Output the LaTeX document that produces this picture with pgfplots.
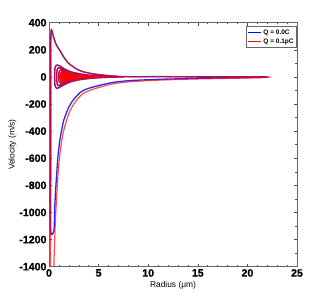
\documentclass[border=0pt]{standalone}
\usepackage{pgfplots}
\pgfplotsset{compat=1.18}
\usepackage{fontspec}
\setmainfont{Liberation Sans}
\newfontfamily\tickfont[FakeBold=1.2]{Liberation Sans Bold}
\begin{document}
\begin{tikzpicture}
\path[use as bounding box] (-49pt,-33pt) rectangle (278pt,266.7pt);
\begin{axis}[
  scale only axis, width=248pt, height=244pt,
  xmin=0, xmax=25, ymin=-1400, ymax=400,
  xtick={0,5,...,25}, ytick={-1400,-1200,...,400},
  minor x tick num=4, minor y tick num=1,
  tick align=inside,
  axis line style={black!60, line width=0.8pt},
  every tick/.style={black!70, line width=0.5pt},
  major tick length=3pt, minor tick length=1.8pt,
  /pgf/number format/assume math mode=true,
  /pgf/number format/1000 sep={},
  every tick label/.append style={font=\fontsize{10.6}{12}\tickfont},
  xticklabel style={yshift=1pt},
  yticklabel style={xshift=1pt},
  xlabel={Radius (μm)}, ylabel={Velocity (m/s)},
  label style={font=\fontsize{8.4}{10}\selectfont},
  xlabel style={yshift=2pt},
  ylabel style={yshift=-4pt},
  legend style={at={(1,0.986)}, anchor=north east, draw=black!60, line width=0.8pt,
    font=\fontsize{6.5}{7.5}\selectfont\bfseries, inner sep=1pt, row sep=-1pt},
  legend cell align=left,
  legend image code/.code={\draw[#1, line width=1.1pt] (0pt,0pt) -- (13pt,0pt);},
]
\addlegendimage{blue}
\addlegendentry{Q = 0.0C}
\addlegendimage{red}
\addlegendentry{Q = 0.1pC}
% Q = 0 (blue)
\addplot[blue!85!white, line width=1.3pt, smooth, tension=0.45, line join=round, forget plot] coordinates {
(1.6,0) (2,2) (3,3) (5,3) (8,2) (12,2) (16,1) (20,1) (22,0)
(21.5,-3) (20,-5) (17,-8) (14.2,-12) (11,-18) (8.2,-27) (6.5,-40) (5.1,-62) (4,-84) (3.5,-98) (3.1,-118) (2.5,-165) (2,-222) (1.5,-317) (1.28,-392) (1.1,-465) (0.9,-588) (0.67,-834) (0.58,-960) (0.5,-1130)
(0.17,-1130) (0.17,-600) (0.17,0) (0.18,250) (0.21,335) (0.23,351) (0.3,340) (0.4,310) (0.6,262) (0.8,228) (1.1,195) (1.5,145) (1.95,102) (2.5,72) (2.95,52) (3.5,37) (4.5,22) (5.8,11) (7,4) (7.5,0)
(6,-3) (5,-6) (4,-12) (3,-22) (2.2,-36) (1.6,-55) (1.1,-75) (0.85,-84) (0.7,-80) (0.6,-62) (0.57,-25) (0.57,25) (0.6,64) (0.7,84) (0.85,88) (1.1,80) (1.6,58) (2.2,38) (3,24) (4,13) (5,6) (6,2) (6.5,0)
(5,-4) (4,-9) (3,-17) (2.2,-28) (1.6,-43) (1.2,-58) (0.95,-65) (0.84,-55) (0.78,-22) (0.78,22) (0.84,58) (0.95,68) (1.2,62) (1.6,46) (2.2,30) (3,17) (4,8) (5,3) (5.8,0)
(4.5,-3) (3.5,-8) (2.6,-15) (2,-24) (1.5,-36) (1.2,-46) (1.05,-40) (0.98,-15) (0.98,15) (1.05,44) (1.2,50) (1.5,39) (2,26) (2.6,15) (3.5,7) (4.5,2) (5.1,0)
(4,-3) (3,-8) (2.3,-14) (1.8,-22) (1.45,-30) (1.25,-28) (1.15,-10) (1.15,10) (1.25,31) (1.45,34) (1.8,24) (2.3,15) (3,7) (4,2) (4.5,0)
(3.5,-3) (2.6,-7) (2,-13) (1.6,-19) (1.38,-18) (1.27,-6) (1.27,6) (1.38,20) (1.6,22) (2,14) (2.6,7) (3.5,2) (4,0)
(3,-2) (2.3,-6) (1.8,-10) (1.5,-13) (1.38,-4) (1.38,4) (1.5,14) (1.8,11) (2.3,6) (3,2) (3.4,0)
(2.5,-2) (2,-5) (1.65,-8) (1.47,-3) (1.47,3) (1.65,9) (2,5) (2.5,2) (2.9,0)
(2.2,-1) (1.8,-3) (1.56,-3) (1.56,3) (1.8,4) (2.2,1) (2.5,0) (1.6,0)
};
% Q = 0.1 pC (red)
\addplot[red, line width=1.2pt, smooth, tension=0.45, line join=round, opacity=0.7, forget plot] coordinates {
(1.6,0) (2,2) (3,3) (5,3) (8,2) (12,2) (16,1) (20,1) (22.3,0)
(21.5,-5) (20,-8) (17,-12) (14.2,-16) (11,-24) (8.2,-35) (6.5,-50) (5.1,-76) (4,-102) (3.5,-120) (3.1,-145) (2.5,-200) (2,-270) (1.5,-390) (1.28,-475) (1.1,-570) (0.9,-725) (0.67,-1020) (0.58,-1190) (0.5,-1370) (0.46,-1500)
(0.17,-1500) (0.17,-600) (0.17,0) (0.18,250) (0.21,335) (0.23,351) (0.3,340) (0.4,310) (0.6,262) (0.8,228) (1.1,195) (1.5,145) (1.95,102) (2.5,72) (2.95,52) (3.5,37) (4.5,22) (5.8,11) (7,4) (7.5,0)
(6,-3) (5,-6) (4,-12) (3,-22) (2.2,-36) (1.6,-55) (1.1,-75) (0.85,-84) (0.7,-80) (0.6,-62) (0.57,-25) (0.57,25) (0.6,64) (0.7,84) (0.85,88) (1.1,80) (1.6,58) (2.2,38) (3,24) (4,13) (5,6) (6,2) (6.5,0)
(5,-4) (4,-9) (3,-17) (2.2,-28) (1.6,-43) (1.2,-58) (0.95,-65) (0.84,-55) (0.78,-22) (0.78,22) (0.84,58) (0.95,68) (1.2,62) (1.6,46) (2.2,30) (3,17) (4,8) (5,3) (5.8,0)
(4.5,-3) (3.5,-8) (2.6,-15) (2,-24) (1.5,-36) (1.2,-46) (1.05,-40) (0.98,-15) (0.98,15) (1.05,44) (1.2,50) (1.5,39) (2,26) (2.6,15) (3.5,7) (4.5,2) (5.1,0)
(4,-3) (3,-8) (2.3,-14) (1.8,-22) (1.45,-30) (1.25,-28) (1.15,-10) (1.15,10) (1.25,31) (1.45,34) (1.8,24) (2.3,15) (3,7) (4,2) (4.5,0)
(3.5,-3) (2.6,-7) (2,-13) (1.6,-19) (1.38,-18) (1.27,-6) (1.27,6) (1.38,20) (1.6,22) (2,14) (2.6,7) (3.5,2) (4,0)
(3,-2) (2.3,-6) (1.8,-10) (1.5,-13) (1.38,-4) (1.38,4) (1.5,14) (1.8,11) (2.3,6) (3,2) (3.4,0)
(2.5,-2) (2,-5) (1.65,-8) (1.47,-3) (1.47,3) (1.65,9) (2,5) (2.5,2) (2.9,0)
(2.2,-1) (1.8,-3) (1.56,-3) (1.56,3) (1.8,4) (2.2,1) (2.5,0) (1.6,0)
};
% dense red oscillation region
\addplot[fill=red, draw=red, line width=0.6pt, smooth, tension=0.4, forget plot] coordinates {
(1.1,0) (1.15,30) (1.3,40) (1.6,33) (2,22) (2.5,15) (3,10) (4,5) (5,2) (5.8,0)
(5,-2) (4,-5) (3,-10) (2.5,-15) (2,-22) (1.6,-33) (1.3,-40) (1.15,-30) (1.1,0)
};
\end{axis}
\end{tikzpicture}
\end{document}
